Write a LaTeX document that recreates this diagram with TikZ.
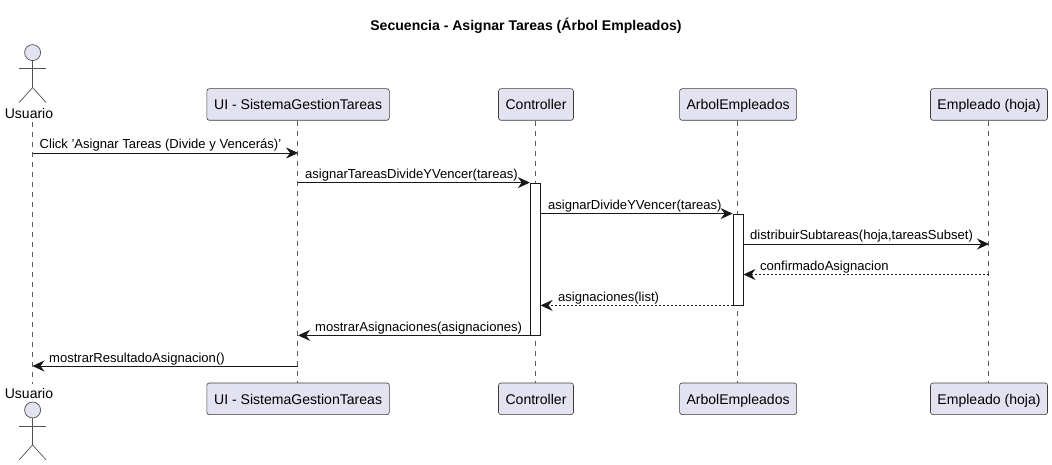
\documentclass[tikz,border=0pt]{standalone}
\usepackage{fontspec}
\setmainfont{Liberation Sans}
\usetikzlibrary{arrows.meta,positioning}
\definecolor{partfill}{HTML}{E2E2F0}
\definecolor{partline}{HTML}{181818}
\tikzset{
  part/.style={draw=partline!85,fill=partfill,rounded corners=2.5pt,line width=0.6pt,minimum height=31.6pt,inner sep=0pt,text height=14pt,text depth=3pt,font=\fontsize{14.05}{16}\selectfont},
  lifeline/.style={draw=partline!70,line width=0.6pt,dash pattern=on 5pt off 5pt},
  actorline/.style={draw=partline!75,line width=0.7pt},
  actorhead/.style={circle,draw=partline!75,fill=partfill,line width=0.7pt,minimum size=16pt,inner sep=0pt},
  actbar/.style={draw=partline,fill=white,line width=0.8pt,minimum width=10pt,inner sep=0pt},
  msg/.style={draw=partline,line width=0.9pt,-{Stealth[length=12pt,width=11pt,inset=4pt]}},
  retmsg/.style={msg,dash pattern=on 2pt off 2pt},
  msglabel/.style={anchor=base west,inner sep=0pt,font=\fontsize{13.05}{15}\selectfont},
  actorlabel/.style={inner sep=0pt,font=\fontsize{14}{16}\selectfont}
}
\begin{document}
\begin{tikzpicture}[x=1pt,y=-1pt]
\useasboundingbox (0,0) rectangle (1052,465);

\node [inner sep=0pt,font=\fontsize{14.05}{16}\selectfont\bfseries] (title) at (526,25.7) {Secuencia - Asignar Tareas (Árbol Empleados)};

% participants, top and bottom
\foreach \n / \x / \w / \t in {UI/298.1/182.5/UI - SistemaGestionTareas, C/536/75/Controller, A/738.1/117/ArbolEmpleados, E/989/117/Empleado (hoja)} {
  \node [part,minimum width=\w pt] (\n top) at (\x,104.5) {\t};
  \node [part,minimum width=\w pt] (\n bot) at (\x,398.8) {\t};
  \draw [lifeline] ([xshift=-0.6pt]\n top.south) -- ([xshift=-0.6pt]\n bot.north);
}

% actor
\node [actorlabel] (Utop) at (29,113) {Usuario};
\node [actorlabel] (Ubot) at (29,393.5) {Usuario};
\coordinate (Ustart) at (32.5,122);
\coordinate (Uend) at (32.5,384);
\draw [lifeline] (Ustart) -- (Uend);
\foreach \a / \y in {top/52.6, bot/410} {
  \node [actorhead] (head\a) at (32.6,\y) {};
  \draw [actorline] (head\a.south) -- ++(0,26.6) coordinate (hip\a);
  \draw [actorline] (hip\a) -- ++(-13.5,15);
  \draw [actorline] (hip\a) -- ++(13.5,15);
  \draw [actorline] ([yshift=-7.7pt]head\a.south) ++(-13.5,0) -- ++(27,0);
}

% activations
\node [actbar,minimum height=152pt] (Cbar) at (535.2,259) {};
\node [actbar,minimum height=91pt] (Abar) at (738,259.5) {};

% messages
\coordinate (m1) at (0,153);
\coordinate (m4) at (0,244);
\coordinate (m5) at (0,274.5);
\coordinate (m8) at (0,366);

\draw [msg] (Ustart |- m1) -- (UItop |- m1);
\draw [msg] (UItop |- Cbar.north) -- (Cbar.north west);
\draw [msg] (Cbar.east |- Abar.north) -- (Abar.north west);
\draw [msg] (Abar.east |- m4) -- (Etop |- m4);
\draw [retmsg] (Etop |- m5) -- (Abar.east |- m5);
\draw [retmsg] (Abar.south west) -- (Cbar.east |- Abar.south);
\draw [msg] (Cbar.south west) -- (UItop |- Cbar.south);
\draw [msg] (UItop |- m8) -- (Ustart |- m8);

\node [msglabel] (l1) at (39.5,149) {Click 'Asignar Tareas (Divide y Vencerás)'};
\node [msglabel] (l2) at (305,179) {asignarTareasDivideYVencer(tareas)};
\node [msglabel] (l3) at (548,210) {asignarDivideYVencer(tareas)};
\node [msglabel] (l4) at (750,240) {distribuirSubtareas(hoja,tareasSubset)};
\node [msglabel] (l5) at (760,270) {confirmadoAsignacion};
\node [msglabel] (l6) at (558,301) {asignaciones(list)};
\node [msglabel] (l7) at (315,331) {mostrarAsignaciones(asignaciones)};
\node [msglabel] (l8) at (49,362) {mostrarResultadoAsignacion()};
\end{tikzpicture}
\end{document}
